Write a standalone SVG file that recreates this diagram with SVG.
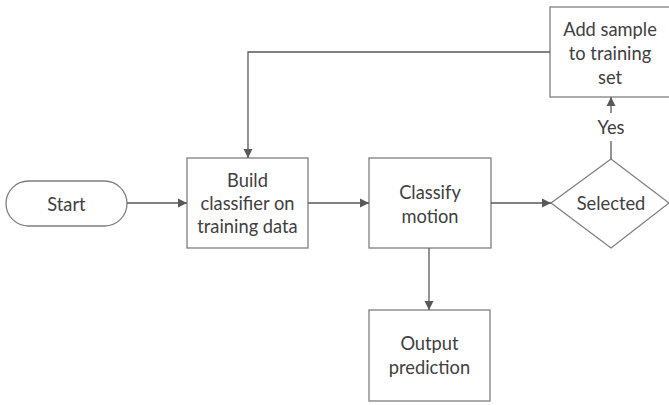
<svg xmlns="http://www.w3.org/2000/svg" width="669" height="405" viewBox="0 0 669 405">
<defs>
<marker id="ah" markerWidth="10" markerHeight="10" refX="9" refY="5" orient="auto" markerUnits="userSpaceOnUse">
<path d="M0,0.5 L9,5 L0,9.5 Z" fill="#595959"/>
</marker>
<style>
.box{fill:#ffffff;stroke:#7f7f7f;stroke-width:1.3}
.t{font-family:Lato,"Open Sans","Liberation Sans",sans-serif;font-size:18.3px;fill:#404040;text-anchor:middle;dominant-baseline:central}
.c{fill:none;stroke:#595959;stroke-width:1.3}
</style>
</defs>
<rect width="669" height="405" fill="#ffffff"/>
<g id="start">
<rect class="box" x="6" y="181" width="121" height="45" rx="22.5"/>
<text class="t" x="66.5" y="203.5">Start</text>
</g>
<g id="build">
<rect class="box" x="187" y="158" width="121" height="90"/>
<text class="t" x="247.5" y="180">Build</text>
<text class="t" x="247.5" y="203">classifier on</text>
<text class="t" x="247.5" y="226">training data</text>
</g>
<g id="classify">
<rect class="box" x="369" y="158" width="122" height="90"/>
<text class="t" x="430" y="192">Classify</text>
<text class="t" x="430" y="215.5">motion</text>
</g>
<g id="output">
<rect class="box" x="369" y="310" width="121" height="91"/>
<text class="t" x="429.5" y="343">Output</text>
<text class="t" x="429.5" y="367">prediction</text>
</g>
<g id="selected">
<polygon class="box" points="551,203 611,159 669,203 611,248"/>
<text class="t" x="611" y="203">Selected</text>
</g>
<g id="addsample">
<rect class="box" x="550" y="7" width="122" height="90"/>
<text class="t" x="610" y="29">Add sample</text>
<text class="t" x="610" y="53">to training</text>
<text class="t" x="610" y="77">set</text>
</g>
<g id="connectors">
<line class="c" x1="127" y1="203" x2="187" y2="203" marker-end="url(#ah)"/>
<line class="c" x1="308" y1="203" x2="369" y2="203" marker-end="url(#ah)"/>
<line class="c" x1="491" y1="203" x2="551" y2="203" marker-end="url(#ah)"/>
<line class="c" x1="429" y1="248" x2="429" y2="310" marker-end="url(#ah)"/>
<line class="c" x1="611" y1="159" x2="611" y2="141"/>
<line class="c" x1="611" y1="113" x2="611" y2="97" marker-end="url(#ah)"/>
<text class="t" x="611" y="127">Yes</text>
<polyline class="c" points="550,52 248,52 248,158" marker-end="url(#ah)"/>
</g>
</svg>
